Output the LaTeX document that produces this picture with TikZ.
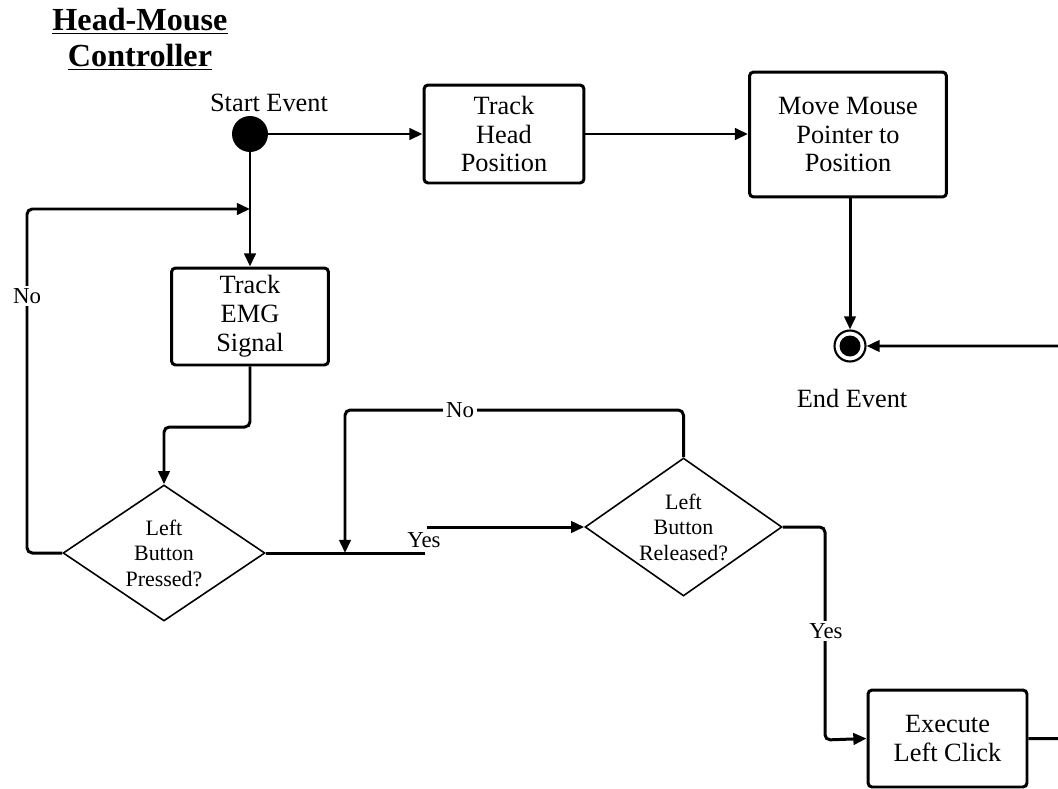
\documentclass[tikz,border=0pt]{standalone}
\usepackage{fontspec}
\setmainfont{Liberation Serif}
\usetikzlibrary{arrows.meta,shapes.geometric}
\begin{document}
\begin{tikzpicture}[x=0.02cm,y=-0.02cm,
  box/.style={draw,line width=1.7pt,rounded corners=2.3pt,align=center,inner sep=0pt,
    font=\fontsize{15}{16.4}\selectfont},
  decision/.style={draw,diamond,line width=0.9pt,align=center,inner sep=0pt,
    font=\fontsize{12.5}{14.5}\selectfont},
  flow/.style={line width=1.7pt,rounded corners=3pt,-{Triangle[length=7.5pt,width=6.5pt]}},
  plain/.style={line width=1.7pt,rounded corners=3pt},
  lbl/.style={fill=white,inner sep=1.5pt,font=\fontsize{13}{14}\selectfont},
  evt/.style={inner sep=0pt,font=\fontsize{15}{17}\selectfont},
  heading/.style={inner sep=0pt,font=\fontsize{18.3}{20}\selectfont\bfseries}]
\useasboundingbox (0,0) rectangle (1058,788);

% heading
\node[heading,anchor=base] (t1) at (140,30) {Head-Mouse};
\node[heading,anchor=base] (t2) at (140,66) {Controller};
\draw[line width=1.1pt] ([yshift=-2pt]t1.base west) -- ([yshift=-2pt]t1.base east);
\draw[line width=1.1pt] ([yshift=-2pt]t2.base west) -- ([yshift=-2pt]t2.base east);

% start and end events
\node[circle,fill,minimum size=0.72cm,inner sep=0pt] (start) at (250,134) {};
\node[evt,anchor=base] (startlbl) at (269,111) {Start Event};
\node[circle,draw,line width=1.2pt,minimum size=0.62cm,inner sep=0pt] (end) at (850,346) {};
\node[circle,fill,minimum size=0.42cm,inner sep=0pt] (endcore) at (end.center) {};
\node[evt,anchor=base] (endlbl) at (852,407) {End Event};

% activities
\node[box,minimum width=3.2cm,minimum height=1.96cm] (head) at (504,134) {Track\\Head\\Position};
\node[box,minimum width=3.94cm,minimum height=2.5cm] (move) at (848,134.5) {Move Mouse\\Pointer to\\Position};
\node[box,minimum width=3.14cm,minimum height=1.94cm] (emg) at (250,316.5) {Track\\EMG\\Signal};
\node[box,minimum width=3.18cm,minimum height=1.94cm] (exec) at (947.5,738.5) {Execute\\Left Click};

% decisions
\node[decision,aspect=1.48,minimum width=4.04cm,minimum height=2.72cm] (pressed) at (164,553) {Left\\Button\\Pressed?};
\node[decision,aspect=1.43,minimum width=3.94cm,minimum height=2.76cm] (released) at (683.5,527) {Left\\Button\\Released?};

% helper points
\coordinate (join1) at (250,209);
\coordinate (loopL) at (27,209);
\coordinate (join2) at (345,553);
\coordinate (loopT) at (345,410);
\coordinate (yesend) at (425,553);
\coordinate (yesstart) at (427,527);
\coordinate (downturn) at (825,740);
\coordinate (rim) at (1075,346);

% connectors
\draw[flow] (start) -- (head);
\draw[flow] (head.east) -- (head.east -| move.west);
\draw[flow] (move.south -| end) -- (end);
\draw[flow] (start) -- (emg);
\draw[flow] (emg.south) -- (250,427) -| (pressed.north);
\draw[flow] (pressed.west) -| (loopL) -- (join1);
\draw[plain] (pressed.east) -- (yesend);
\draw[flow] (yesstart) -- (released.west);
\draw[flow] (released.north) |- (loopT) -- (join2);
\draw[flow] (released.east) -| (downturn) -- (exec.west);
\draw[flow] (exec.east) -| (rim) -- (end.east);

% connector labels
\node[lbl] (no1) at (27,296) {No};
\node[lbl] (no2) at (460,410) {No};
\node[lbl] (yes1) at (424,540) {Yes};
\node[lbl] (yes2) at (826,631) {Yes};
\end{tikzpicture}
\end{document}
